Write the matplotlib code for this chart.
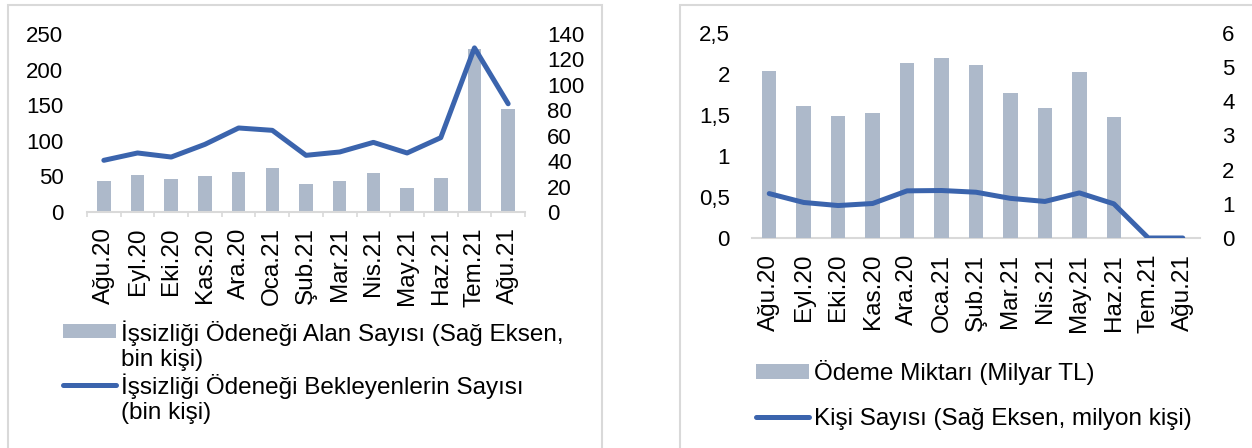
import matplotlib as mpl
mpl.use('Agg')
import matplotlib.pyplot as plt
import matplotlib.transforms as mtransforms
from matplotlib.patches import Rectangle
from matplotlib.legend_handler import HandlerPatch, HandlerLine2D, update_from_first_child
import numpy as np

plt.rcParams['font.family'] = ['Liberation Sans', 'DejaVu Sans']

months = ['Ağu.20', 'Eyl.20', 'Eki.20', 'Kas.20', 'Ara.20', 'Oca.21', 'Şub.21',
          'Mar.21', 'Nis.21', 'May.21', 'Haz.21', 'Tem.21', 'Ağu.21']

# sol grafik
alan = [24.4, 28.8, 26.2, 28.1, 31.7, 34.3, 22.3, 24.4, 30.7, 19.1, 26.7, 128.5, 80.8]
bekleyen = [72.6, 82.9, 77.2, 95.0, 118.0, 114.7, 79.6, 84.3, 97.8, 82.9, 104.4, 230.5, 152.0]
left_ticks = [0, 50, 100, 150, 200, 250]
left_ticks2 = [0, 20, 40, 60, 80, 100, 120, 140]

# sag grafik
odeme = [2.04, 1.61, 1.49, 1.53, 2.13, 2.19, 2.11, 1.77, 1.59, 2.03, 1.48, 0, 0]
kisi = [1.30, 1.04, 0.95, 1.01, 1.38, 1.39, 1.34, 1.16, 1.07, 1.32, 1.00, 0, 0]
right_ticks = [0, 0.5, 1, 1.5, 2, 2.5]
right_tick_labels = ['0', '0,5', '1', '1,5', '2', '2,5']
right_ticks2 = [0, 1, 2, 3, 4, 5, 6]

BAR = '#ADB9CA'
LINE = '#3B64AD'
GRAY = '#D9D9D9'
FS = 16      # y ekseni
FSX = 17.5   # x etiketleri ve lejant
LW = 3.6


class FirstLinePatch(HandlerPatch):
    def create_artists(self, legend, orig_handle, xdescent, ydescent, width, height, fontsize, trans):
        up = mtransforms.Affine2D().translate(0, 0.6 * fontsize)
        return super().create_artists(legend, orig_handle, xdescent, ydescent, width, height, fontsize, up + trans)


class FirstLineLine(HandlerLine2D):
    def create_artists(self, legend, orig_handle, xdescent, ydescent, width, height, fontsize, trans):
        up = mtransforms.Affine2D().translate(0, 0.6 * fontsize)
        return super().create_artists(legend, orig_handle, xdescent, ydescent, width, height, fontsize, up + trans)


fig = plt.figure(figsize=(12.52, 4.48), dpi=100)

# panel cerceveleri
fig.patches.append(Rectangle((8 / 1252, -0.1), 594 / 1252, 1.1 - 5 / 448, transform=fig.transFigure,
                             fill=False, ec=GRAY, lw=1.5))
fig.patches.append(Rectangle((680 / 1252, -0.1), 0.6, 1.1 - 5 / 448, transform=fig.transFigure,
                             fill=False, ec=GRAY, lw=1.5))

x = np.arange(len(months))

# ---- sol ----
ax = fig.add_axes([87 / 1252, 1 - 212 / 448, 438 / 1252, 178 / 448])
ax2 = ax.twinx()
bars = ax2.bar(x, alan, width=0.4, color=BAR)
line, = ax.plot(x, bekleyen, color=LINE, lw=LW, solid_capstyle='round', solid_joinstyle='round')
ax.set_zorder(ax2.get_zorder() + 1)
ax.patch.set_visible(False)

ax.set_xlim(-0.5, len(months) - 0.5)
ax.set_ylim(0, 250)
ax2.set_ylim(0, 140)
ax.set_yticks(left_ticks)
ax2.set_yticks(left_ticks2)
ax.set_xticks(x)
ax.set_xticklabels(months, rotation=90, fontsize=FSX)
ax.set_xticks(np.arange(-0.5, len(months)), minor=True)
ax.tick_params(axis='x', which='major', length=0, pad=11)
ax.tick_params(axis='x', which='minor', length=3.6, width=1.2, color=GRAY)
ax.tick_params(axis='y', length=0, pad=17, labelsize=FS)
ax2.tick_params(axis='y', length=0, pad=16, labelsize=FS)
for a in (ax, ax2):
    for s in ['top', 'left', 'right']:
        a.spines[s].set_visible(False)
ax2.spines['bottom'].set_visible(False)
ax.spines['bottom'].set_color(GRAY)
ax.spines['bottom'].set_linewidth(1.5)

fig.legend([bars, line],
           ['İşsizliği Ödeneği Alan Sayısı (Sağ Eksen,\nbin kişi)',
            'İşsizliği Ödeneği Bekleyenlerin Sayısı\n(bin kişi)'],
           handler_map={bars: FirstLinePatch(update_func=update_from_first_child),
                        line: FirstLineLine()},
           loc='upper left', bbox_to_anchor=(63 / 1252, 1 - 320 / 448), frameon=False,
           fontsize=FSX, borderpad=0, borderaxespad=0, handlelength=2.2, handleheight=0.5,
           handletextpad=0.2, labelspacing=0.1)

# ---- sag ----
bx = fig.add_axes([752 / 1252, 1 - 238 / 448, 448 / 1252, 205 / 448])
bx2 = bx.twinx()
bars_r = bx.bar(x, odeme, width=0.42, color=BAR)
line_r, = bx2.plot(x, kisi, color=LINE, lw=LW, solid_capstyle='round', solid_joinstyle='round')

bx.set_xlim(-0.5, len(months) - 0.5)
bx.set_ylim(0, 2.5)
bx2.set_ylim(0, 6)
bx.set_yticks(right_ticks)
bx.set_yticklabels(right_tick_labels)
bx2.set_yticks(right_ticks2)
bx.set_xticks(x)
bx.set_xticklabels(months, rotation=90, fontsize=FSX)
bx.tick_params(axis='x', length=0, pad=11.5)
bx.tick_params(axis='y', length=0, pad=16, labelsize=FS)
bx2.tick_params(axis='y', length=0, pad=16, labelsize=FS)
for a in (bx, bx2):
    for s in ['top', 'left', 'right']:
        a.spines[s].set_visible(False)
bx2.spines['bottom'].set_visible(False)
bx.spines['bottom'].set_color(GRAY)
bx.spines['bottom'].set_linewidth(1.5)
bx.spines['bottom'].set_zorder(0.5)

fig.legend([bars_r, line_r], ['Ödeme Miktarı (Milyar TL)', 'Kişi Sayısı (Sağ Eksen, milyon kişi)'],
           loc='upper left', bbox_to_anchor=(756 / 1252, 1 - 360 / 448), frameon=False,
           fontsize=FSX, borderpad=0, borderaxespad=0, handlelength=2.2, handleheight=0.55,
           handletextpad=0.2, labelspacing=0.95)

fig.savefig('out.png', dpi=100)
